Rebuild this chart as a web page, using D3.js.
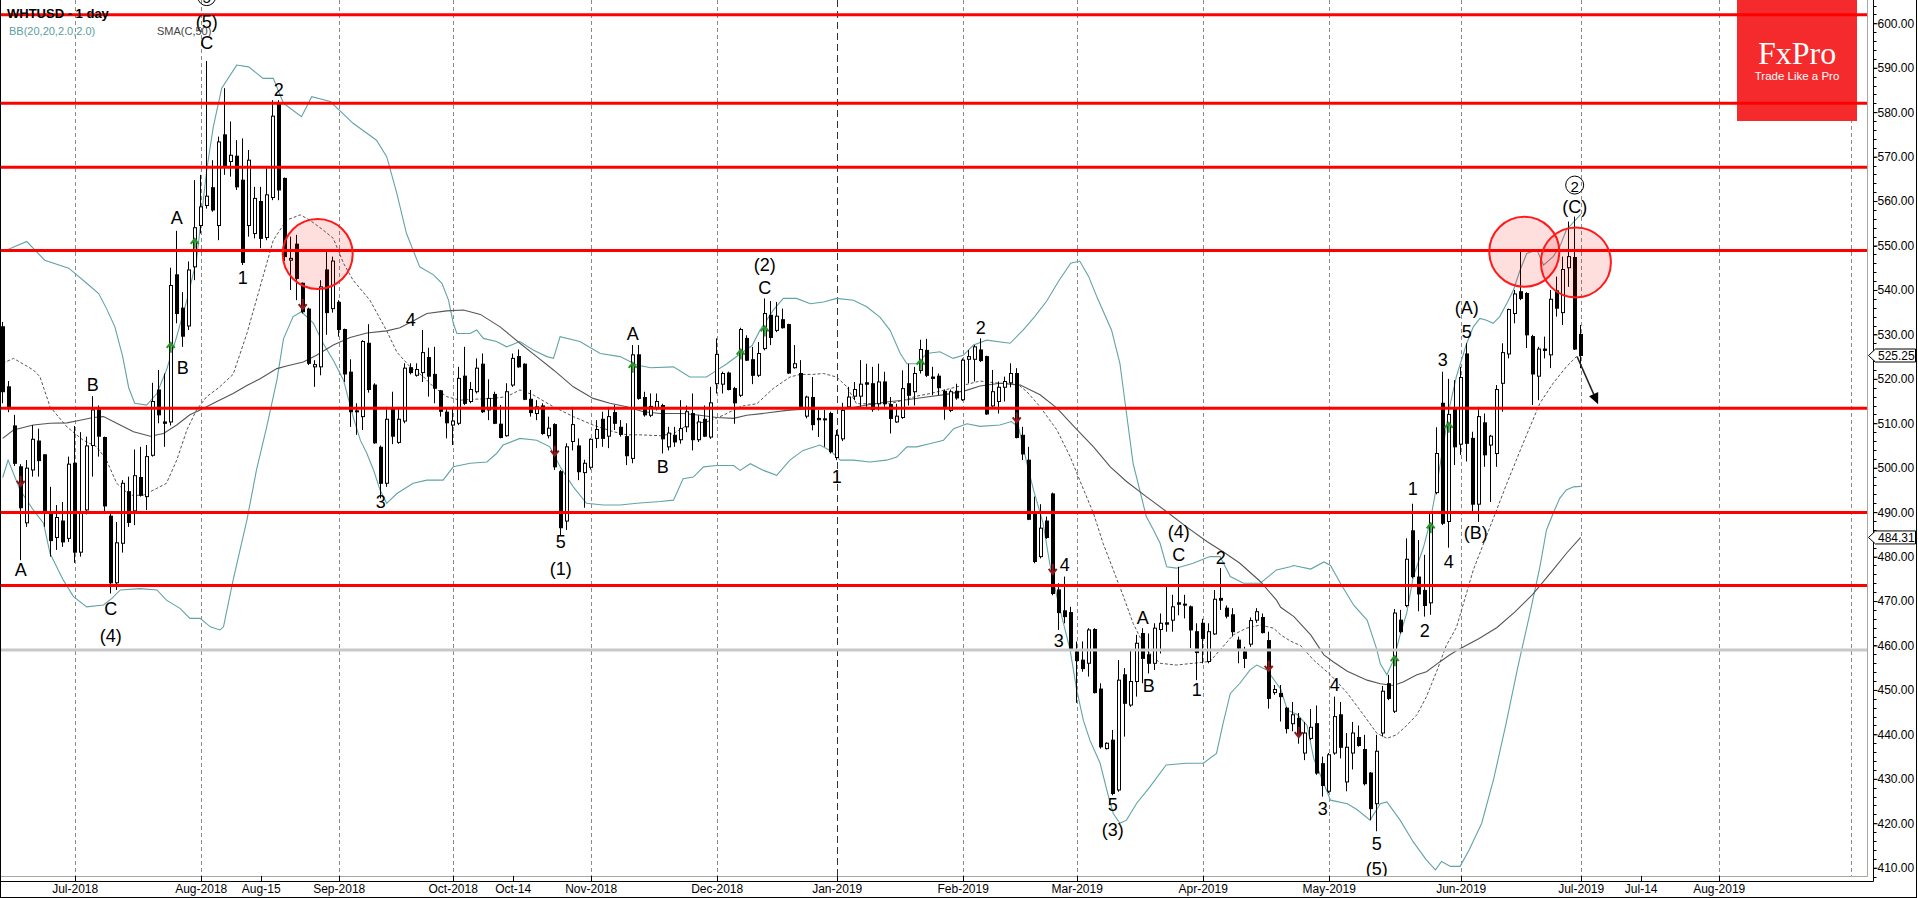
<!DOCTYPE html>
<html>
<head>
<meta charset="utf-8">
<script src="https://cdn.jsdelivr.net/npm/d3@7/dist/d3.min.js"></script>
<style>
  body { margin: 0; background: #fff; }
  svg { display: block; font-family: "Liberation Sans", Arial, sans-serif; }
  .grid { stroke: #8a8a8a; stroke-width: 1; stroke-dasharray: 4,3; }
  .grid.year { stroke: #333; stroke-dasharray: 7,4; }
  .level { stroke: #ff0000; stroke-width: 3; }
  .band { fill: none; stroke: #62a3a5; stroke-width: 1.1; }
  .mid { fill: none; stroke: #555; stroke-width: 1; stroke-dasharray: 3,2; }
  .sma { fill: none; stroke: #555; stroke-width: 1.1; }
  .wave { font-size: 18px; fill: #000; text-anchor: middle; dominant-baseline: central; }
  .axis text { font-size: 12px; fill: #000; }
</style>
</head>
<body>
<script>
// bottom axis (candle index -> label); candles are trading days
var tickIdx = [12, 33, 43, 56, 75, 85, 98, 119, 139, 160, 179, 200, 221, 243, 263, 273, 286],
    tickLabels = ["Jul-2018", "Aug-2018", "Aug-15", "Sep-2018", "Oct-2018", "Oct-14", "Nov-2018",
                  "Dec-2018", "Jan-2019", "Feb-2019", "Mar-2019", "Apr-2019", "May-2019",
                  "Jun-2019", "Jul-2019", "Jul-14", "Aug-2019"],
    gridIdx = [12, 33, 56, 75, 98, 119, 139, 160, 179, 200, 221, 243, 263, 286, 308],
    priceTicks = d3.range(410, 601, 10),
    levels = [601.9, 582.0, 567.6, 548.9, 513.4, 489.9, 473.5],
    greyLevel = 459.0,
    lastPrices = [525.25, 484.31];

// open, high, low, close
var ohlc = [
  [531.7,532.8,514.5,517.1],[518.2,519.5,512.5,513.7],[509.4,511.9,500.4,501.0],[500.2,500.8,479.2,491.0],
  [487.6,501.7,486.7,499.9],[499.5,509.6,498.0,506.4],[506.0,508.8,498.0,501.6],[502.9,503.0,486.7,490.3],
  [489.9,495.7,480.0,483.6],[484.3,491.6,481.5,488.8],[488.0,492.3,482.2,483.3],[484.1,502.5,483.3,500.8],
  [501.0,509.4,478.6,481.0],[481.0,508.0,480.0,490.0],[490.5,507.0,489.5,504.9],[505.0,516.1,498.0,513.0],
  [513.0,514.0,502.5,507.1],[506.8,507.0,489.6,491.4],[489.1,489.8,471.7,474.1],[474.1,487.8,472.5,483.1],
  [483.0,497.2,480.9,496.5],[494.6,498.0,486.7,487.7],[490.3,504.1,487.1,498.2],[497.8,504.7,493.5,493.8],
  [493.5,505.1,490.5,502.5],[502.8,519.1,502.5,514.9],[517.5,522.0,510.0,511.9],[510.3,521.2,504.7,510.0],
  [510.3,545.0,509.5,541.0],[543.4,553.3,532.5,534.7],[535.9,539.5,527.2,529.6],[531.9,546.4,531.0,544.5],
  [545.2,564.7,542.2,554.0],[554.5,565.9,552.7,558.7],[559.0,591.5,558.3,561.1],[563.0,569.2,557.6,558.0],
  [554.5,574.5,551.2,573.3],[574.9,585.4,565.9,567.9],[568.9,577.9,565.5,570.3],[570.1,573.7,562.5,563.2],
  [564.7,574.1,545.6,546.2],[554.5,571.5,552.0,569.2],[552.7,563.2,551.6,560.6],[559.9,563.2,549.4,551.6],
  [551.8,567.4,551.2,561.4],[560.8,582.7,560.2,579.1],[582.0,582.7,560.2,562.5],[565.1,565.3,546.5,547.5],
  [546.7,552.0,540.0,547.1],[550.3,552.4,537.7,542.6],[541.5,541.7,534.7,535.1],[535.7,536.0,523.1,523.5],
  [522.7,524.2,518.2,523.2],[522.7,542.2,520.8,540.7],[544.5,548.6,529.9,534.9],[535.8,547.5,534.9,546.5],
  [537.2,537.7,529.5,531.1],[531.1,531.3,519.3,521.1],[521.5,524.4,509.2,512.6],[512.8,514.5,507.4,512.6],
  [511.5,528.7,508.5,528.4],[528.0,532.3,516.9,517.6],[518.6,519.0,505.4,505.6],[504.6,505.0,493.1,496.5],
  [496.5,513.7,495.7,510.9],[513.1,517.1,505.3,507.1],[505.7,513.7,505.4,510.9],[510.5,523.5,510.0,522.4],
  [522.5,523.5,521.0,521.4],[520.8,523.5,520.5,522.1],[521.4,531.0,519.3,525.9],[524.8,527.0,516.0,520.6],
  [521.0,527.2,514.5,517.9],[517.3,517.5,511.5,512.7],[512.5,513.3,506.6,510.1],[509.6,513.3,505.1,510.5],
  [510.0,522.7,509.6,520.1],[520.6,527.2,514.1,514.5],[514.9,519.3,514.5,517.6],[517.1,524.6,516.7,522.4],
  [523.3,525.7,512.3,512.6],[513.0,519.9,510.7,515.6],[516.5,517.1,509.8,510.0],[509.8,514.1,506.6,506.8],
  [507.2,519.0,507.0,517.1],[518.6,525.7,518.2,524.6],[525.0,526.6,522.5,522.7],[523.3,523.5,515.2,515.4],
  [515.4,517.5,511.5,512.4],[512.2,515.2,510.7,513.7],[513.9,514.5,507.4,507.7],[507.2,511.5,506.6,508.9],
  [509.7,510.0,499.5,500.2],[499.1,499.5,484.8,486.5],[488.0,505.5,486.0,504.7],[505.9,513.7,503.9,509.7],
  [504.9,506.6,497.2,499.1],[498.9,501.8,491.0,501.0],[500.1,506.6,499.6,506.4],[506.6,510.7,504.4,508.6],
  [510.9,512.6,504.7,506.6],[507.1,513.7,504.4,511.5],[512.4,514.1,508.5,510.0],[509.1,510.7,507.0,507.5],
  [507.0,510.0,500.6,502.7],[502.1,527.6,501.0,525.4],[525.4,527.6,515.3,515.6],[515.8,517.1,511.5,511.9],
  [511.8,516.7,511.4,513.8],[513.3,516.7,512.9,514.9],[514.0,514.4,503.2,506.5],[504.7,509.2,503.9,507.8],
  [507.3,509.2,504.7,505.8],[506.3,515.2,505.4,508.8],[509.2,514.0,508.0,512.6],[512.2,516.7,503.9,506.3],
  [506.3,511.8,505.8,510.3],[510.9,514.0,506.9,507.1],[506.9,518.2,506.5,514.6],[518.9,529.1,516.7,525.5],
  [518.8,521.6,516.7,521.2],[521.3,521.6,517.4,517.6],[517.8,518.2,509.9,514.6],[516.3,531.5,515.9,531.1],
  [529.1,529.8,524.0,524.2],[524.3,527.2,518.8,520.8],[520.8,528.3,520.4,525.7],[526.8,538.1,526.4,534.7],
  [534.3,537.5,527.6,529.3],[530.9,537.3,530.5,534.1],[533.3,535.8,531.3,531.5],[532.2,532.4,521.1,521.3],
  [522.5,527.6,522.3,523.4],[521.2,524.2,513.6,513.8],[511.6,516.2,511.1,515.9],[515.8,520.4,508.4,509.7],
  [511.1,513.0,506.9,510.8],[510.9,513.0,504.7,511.0],[512.2,512.6,503.2,503.6],[502.3,508.5,501.7,507.3],
  [506.5,514.6,506.0,512.9],[513.7,518.2,513.3,515.9],[516.1,519.3,515.2,517.6],[516.1,524.2,513.7,518.8],
  [519.1,523.4,513.7,518.8],[518.9,522.7,512.6,513.1],[514.4,523.4,512.9,519.3],[519.3,521.6,513.7,514.4],
  [514.2,515.9,507.7,511.1],[510.3,514.4,510.1,511.6],[511.3,521.9,511.0,517.8],[518.9,523.4,514.0,516.3],
  [517.1,522.7,514.0,521.2],[521.9,528.8,521.2,526.6],[526.4,529.0,520.4,520.8],[520.4,522.7,516.3,520.1],
  [520.6,521.2,516.3,518.0],[517.2,517.6,510.8,513.3],[512.9,517.6,512.5,517.1],[517.2,518.9,515.3,515.7],
  [515.3,524.6,515.0,524.2],[524.4,526.5,519.0,525.0],[524.4,527.6,519.4,527.2],[526.5,529.1,523.8,524.1],
  [525.0,525.2,511.9,512.1],[513.9,522.0,513.4,517.1],[514.9,519.4,512.2,518.1],[518.1,520.5,514.9,519.4],
  [519.1,523.5,518.1,521.2],[521.2,522.4,506.6,506.8],[507.3,509.2,501.7,503.1],[501.7,504.7,488.2,488.4],
  [489.6,493.5,478.5,478.9],[480.0,491.8,479.6,486.4],[488.0,489.0,484.0,484.3],[494.1,494.4,471.3,471.7],
  [472.5,474.0,463.5,467.4],[467.8,475.5,465.0,466.5],[467.4,468.7,459.0,459.1],[458.6,460.9,447.1,456.6],
  [456.7,460.9,454.1,454.8],[456.0,463.9,453.0,463.5],[463.6,463.9,449.2,449.4],[450.2,451.5,436.8,437.2],
  [436.8,438.2,436.6,438.0],[438.7,441.0,426.3,426.7],[427.5,456.7,427.1,452.2],[453.4,454.9,439.5,447.0],
  [446.6,459.0,446.2,451.9],[451.9,462.4,448.5,460.5],[462.7,463.9,451.5,457.1],[457.9,462.7,453.7,456.0],
  [456.0,465.0,454.5,463.9],[463.6,467.2,458.2,465.0],[465.1,473.2,463.1,464.8],[465.7,471.4,463.1,468.7],
  [469.6,477.7,466.8,469.3],[469.3,471.4,466.1,469.1],[468.7,469.0,459.4,463.5],[463.1,465.0,452.2,458.4],
  [465.0,466.0,456.0,461.6],[456.4,465.0,456.0,463.1],[462.6,472.5,462.4,470.4],[470.6,477.4,468.0,470.2],
  [468.4,469.0,466.1,466.6],[466.9,468.4,462.0,463.1],[461.2,462.0,456.0,459.4],[458.6,459.7,454.9,457.1],
  [460.3,466.3,459.7,465.6],[465.7,468.4,465.1,467.6],[466.3,467.2,462.7,462.9],[461.1,463.1,445.8,448.1],
  [449.4,451.1,448.9,450.1],[449.2,451.1,442.9,448.5],[445.9,446.2,440.2,441.3],[442.4,447.3,440.7,444.4],
  [443.6,444.8,437.9,439.9],[435.8,442.8,434.2,440.3],[439.1,445.7,438.7,441.6],[442.4,446.5,430.9,431.3],
  [433.4,435.0,426.0,428.5],[427.2,435.8,426.8,435.4],[435.8,448.5,435.4,444.0],[444.4,447.3,434.6,437.1],
  [429.3,440.3,427.2,437.1],[435.8,442.8,432.1,440.3],[439.3,442.0,437.2,437.5],[436.6,439.9,428.5,428.9],
  [431.3,431.5,420.7,423.3],[424.4,439.9,418.2,436.2],[440.3,450.9,439.5,449.7],[451.4,453.4,447.7,448.1],
  [445.2,468.2,444.8,467.3],[465.7,468.0,462.7,463.1],[469.0,484.1,468.6,479.4],[485.8,491.9,475.1,475.5],
  [475.4,483.7,467.7,471.6],[472.4,480.4,466.5,469.0],[469.6,490.2,466.9,489.8],[494.4,509.1,494.0,503.2],
  [514.5,521.6,487.1,487.5],[487.9,520.0,482.0,512.0],[513.4,519.7,500.6,504.7],[505.3,522.7,502.9,520.3],
  [525.6,528.0,501.4,505.5],[506.6,508.1,490.1,491.8],[491.8,513.7,487.8,511.5],[510.1,512.2,500.2,502.9],
  [505.1,507.4,492.3,507.1],[503.2,518.6,500.2,517.6],[519.0,528.0,512.6,525.9],[525.6,535.8,524.6,535.6],
  [534.7,540.0,532.5,539.1],[539.6,548.6,537.7,538.1],[539.2,539.5,526.9,529.9],[529.5,529.9,514.1,521.1],
  [520.6,527.2,515.2,526.7],[526.7,529.5,524.6,526.4],[525.4,540.0,522.4,537.9],[539.8,543.0,534.0,535.9],
  [534.9,547.5,532.1,544.6],[545.0,555.4,540.7,547.5],[547.3,556.5,526.5,526.7],[530.0,532.1,522.4,525.25]
];

// indicator lines as [candle index, value]
var bbUpper = [[0,548.6],[4,550.9],[7,546.7],[11,544.9],[14,541.5],[16,539.2],[17.3,535.8],[18.7,531.7],[20,525],[21,518],
  [22,514.5],[24,514.1],[25.7,516.7],[27.3,522],[29,529.5],[30.7,537.7],[32.3,546.7],[34,567],[35.1,576.7],[36.5,585.4],
  [39,590.6],[41,590.2],[43.4,587.6],[45.1,587.6],[46.8,582],[49.8,579],[51.5,583.5],[54.6,582.4],[58.4,577.5],[62.3,573.7],
  [64,570],[65.7,561.7],[67.3,552.7],[69.5,545.2],[71.8,543.4],[73.2,541.5],[74.3,537.7],[75.1,532.5],[75.7,530.2],[77.9,530.2],
  [79,531],[80.1,529.1],[82.3,528.4],[84,527.2],[86.2,528.4],[88.4,526.5],[90.7,525],[91.8,524.6],[92.9,529.5],[96.2,528.4],
  [99.6,525.7],[102.9,525],[105.7,523.1],[108,522.5],[111.8,522.7],[114.5,520.4],[117.3,520.4],[119,521.9],[120.7,523.4],[123,525.7],
  [124.9,527.5],[126.2,530.9],[128.4,535.4],[130.1,538.1],[132.3,538.1],[134.6,536.9],[136.8,537.3],[139,538.1],[141.8,537.7],[144,536.2],
  [146.2,533.9],[147.9,530.9],[149.6,525.7],[150.7,523.4],[152.3,523.4],[154,525.7],[156.2,526.1],[158.4,524.6],[160.1,525.3],[161.8,527.6],
  [164,528.7],[167.9,528],[170.1,531],[172,534],[174,537.5],[176,542],[178,546],[179.5,546.5],[181,543],[182.5,538],
  [184.8,531],[186.2,523.5],[187.3,512.2],[188.4,501],[189.5,495],[190.6,489],[191.8,486],[192.9,483],[194,477.7],[195.6,477.4],
  [198.4,478.5],[201.2,480],[202.9,480],[204.6,475.5],[206.8,474],[209.6,474],[212.3,477],[214.6,477.7],[215.2,478],[218,477.2],
  [220.2,478.8],[221.3,478],[223,473.9],[225.2,469],[227.4,465.7],[229,459.2],[229.6,455.9],[230.7,453.4],[231.8,456.7],[232.9,462.4],
  [234,467.3],[235.1,475.5],[236.8,482.1],[237.9,487.8],[239,496],[240.1,505],[241.2,514],[242.3,520.6],[244,528],[245.1,531.7],
  [246.2,533.6],[247.3,533.2],[248.4,532.5],[249.5,534],[250.7,537],[251.8,540],[252.9,544.5],[254,548.2],[255.7,549],[256.8,545.6],
  [258.4,547.5],[259.5,549.7],[260.6,553.5],[263,557]];

var bbMid = [[0,523.5],[1.8,524.6],[5.1,522],[6.2,520.5],[7.9,513.7],[10.7,509.2],[13.4,506.2],[15.7,504.7],[17.3,501.7],[19,496.5],
  [21.2,493.8],[23.4,493.8],[25.6,495.3],[27.3,496.5],[29,501.7],[30.7,508.5],[32.3,513],[34,516],[36,518],[38.4,521],
  [40.7,530.2],[42.9,540.7],[45.1,551.2],[47.3,555.7],[49.6,556.9],[51.2,555.7],[53.4,553.5],[55.1,551.6],[56.8,546],[58.4,542.2],
  [61.2,537.7],[64,530.8],[65.7,526],[67.9,522.7],[70.1,520.5],[71.8,518.2],[74,516],[76.2,515.2],[78.4,515.4],[81.8,515.6],
  [84,516],[86.2,517.5],[88.4,516.4],[91.8,513.7],[95.1,511.5],[98.4,509.6],[101.8,508.1],[104,507.4],[106.2,507.4],[109.6,507.2],
  [111.8,507.7],[114.5,509.9],[117.3,510.3],[120.1,511.8],[123,513.8],[125.7,514.4],[128.4,517.8],[131.2,520.4],[132.9,521],[135.1,521],
  [136.8,521.2],[139,520.4],[140.7,518.2],[142.3,514.4],[145.1,514.4],[147.9,514.4],[150.1,515.2],[152.3,516.1],[154.6,516.7],[157.3,517.6],
  [159.6,518.4],[162.9,519.5],[166.2,519],[169,519],[170.7,517.1],[172.9,513.7],[175.7,508.5],[177.9,502.5],[179.5,497.2],[181.8,489.7],
  [183.4,483],[185.1,477],[186.8,471],[188.4,465],[190.6,459],[192.9,456],[195.6,455.6],[198.4,456],[201.2,456.4],[202.9,459],
  [205.1,462.4],[207.3,463.9],[209.6,464.6],[211.8,463.9],[213,462.4],[214.6,461],[216.3,460],[218.5,456.7],[221.3,453.4],[224.1,449.3],
  [226.8,444.4],[229,440.3],[230.7,439.1],[232.3,439.9],[234,442],[235.7,444.4],[237.3,448.5],[239,454.2],[240.6,460],[242.3,464.1],
  [245.1,477],[247.9,486.7],[250.7,496.5],[253.4,505.5],[256.2,514.5],[258.4,519],[260.6,522.7],[262.3,525],[263,525.2]];

var bbLower = [[0,497.8],[0.9,501.7],[2.9,495],[5.1,490.5],[6.8,487.5],[7.9,480.7],[10.1,474.7],[11.8,471],[14,468.7],[16.8,469.1],
  [18.2,470.6],[19.6,472.5],[22.9,472.8],[25.7,472.5],[27.3,470.2],[29.6,468.3],[31.2,466.1],[32.9,466.1],[34.6,464.2],[36.2,463.5],
  [36.8,464.2],[38.4,474.7],[40.7,488.2],[42.3,499.5],[44,509.2],[45.7,519.7],[46.8,529],[48.4,534],[49.8,535.1],[51.8,532.5],
  [53.4,528],[55.1,524.2],[56.8,519.7],[57.6,515.6],[58.4,511.5],[59.6,506.2],[60.7,503.2],[61.8,499.5],[62.9,495],[64,492],
  [65.7,494.2],[68.4,496.5],[70.7,497.2],[73.4,497.2],[75.1,500.2],[77.9,501],[80.7,501.3],[82.3,503.2],[83.4,505.1],[86.2,506.6],
  [89,506.2],[91.2,504.7],[92.9,500.2],[95.1,495.7],[97.3,492],[100.1,491.6],[102.9,491.6],[105.7,492],[109.6,492.4],[111.8,492.7],
  [113.4,497.5],[115.1,497.9],[116.8,500.2],[119,500.5],[121.8,500.5],[122.9,499.4],[124.6,500.9],[126.8,499.4],[129,498.3],[131.2,501.7],
  [133.4,503.9],[136.2,505.1],[137.9,503.9],[139.6,501.7],[141.8,501.7],[144.5,501.3],[147.3,501.7],[149,502.4],[150.7,504.7],[152.3,504.7],
  [154.5,505.4],[156.8,506.2],[158.5,508.8],[160.7,509.9],[162.9,509.3],[166.2,509.6],[168.1,510.4],[169.3,509.2],[170.7,501],[171.8,495],
  [173.4,487.5],[174.5,478.5],[175.7,471],[176.8,465],[177.9,459],[179,450],[180.1,443.2],[181.2,438.7],[182.9,433.5],[184.3,426],
  [185.1,422.2],[186.2,420],[187.3,420.7],[189,424.5],[191.2,428.2],[193.9,433.1],[197.3,433.5],[200.1,433.5],[202.3,435.7],[203.4,442.5],
  [204.6,449.2],[206.2,451.5],[207.9,454.5],[209,455.6],[210.7,454.5],[212.3,451.5],[213,450.2],[214.1,445.5],[215.8,444.4],[217.4,442],
  [218.5,434.6],[220.2,428.9],[221.3,425.2],[224.1,424.4],[225.7,423.1],[227.9,420.7],[229.6,424.4],[230.7,424.8],[232.9,420.7],[235.1,415.8],
  [237.3,411.7],[238.8,409.5],[239.8,411.4],[241.3,410.3],[242.9,410.3],[244.4,414],[246.5,420],[248.5,430],[250.5,442],[252.5,455],
  [254.5,467],[256.2,477.7],[257.3,486],[258.4,489.7],[259.5,493.1],[260.6,495],[261.8,495.7],[263,495.8]];

var sma50 = [[0,506.6],[1.8,508.5],[5.1,509.6],[7.9,510],[10.7,510.1],[12.9,510.7],[15.1,511.3],[16.8,511.5],[19,510],[21.8,508.1],
  [24.6,507.1],[26.8,507.7],[29,509.6],[31.2,511.9],[32.9,513],[35.7,514.9],[38.4,516.7],[40.7,518.5],[42.9,520],[45.7,522.3],
  [47.3,522.9],[50.1,523.8],[52.3,525.3],[55.1,527.6],[57.9,529.3],[60.7,530.3],[64,530.8],[66.2,531.5],[68.4,533],[70.7,534.7],
  [74,535.3],[76.8,535.5],[79.6,534.5],[82.9,531.7],[86.2,528],[89,525],[91.8,522],[95.1,518.2],[98.4,515.6],[101.2,514.5],
  [104,513.7],[106.8,512.6],[109.6,512.2],[113.4,512.2],[116.2,511.8],[119,511.3],[121.8,511.1],[124,511.8],[127.3,512.3],[130.7,512.9],
  [134,513.2],[137.3,513.3],[140.7,513.3],[144,514.1],[147.3,514.8],[150.7,515.3],[154,515.9],[157.3,516.5],[160.6,517.4],[162.9,518.4],
  [166.2,519],[169.6,518.6],[172.9,516.4],[175.7,513.4],[178.6,509.2],[181.8,504.7],[184.6,500.2],[187.3,496.9],[190.6,493.5],[194,490.1],
  [197.3,486.7],[200.7,483.4],[203.4,481.1],[206.2,478.5],[209.6,474.4],[212.3,470.2],[213,468.6],[215.2,466.5],[218,462.4],[220.2,457.9],
  [221.8,456.3],[224.1,454.2],[227.4,452.2],[229.6,451.4],[231.8,451],[233.4,451.8],[235.7,453.4],[237.3,454.1],[239.5,456.3],[241.2,457.9],
  [242.8,459.2],[246,461.5],[249,464],[252,467.5],[255,471.5],[258.4,477],[260.6,480.7],[263,484.31]];

// signal arrows and wave counts [index, price]
var upSignals = [[28,527.2],[32,550.6],[105,522.7],[123,525.7],[127,530.9],[153,523.4],[232,456.7],[238,486.6],[241,509.2]],
    downSignals = [[3,496.8],[50,536.6],[92,503.6],[169,511.1],[175,477],[211,455.2],[216,440.3]],
    waveText = ["A","B","C","(4)","A","B","C","(5)","1","2","3","4","5","(1)","A","B","C","(2)","1","2",
                "3","4","5","(3)","A","B","C","(4)","1","2","3","4","5","(5)","1","2","3","4","5","(A)","(B)","(C)"],
    waveIdx = [3,15,18,18,29,30,34,34,40,46,63,68,93,93,105,110,127,127,139,163,
               176,177,185,185,190,191,196,196,199,203,220,222,229,229,235,237,240,241,244,244,245.5,262],
    wavePrice = [477.0,518.6,468.1,462.1,556.1,522.4,595.5,600.4,542.6,585,492.3,533.2,483.3,477.2,530.2,500.2,540.4,545.6,498,531.4,
                 460.9,478.1,424.1,418.5,466.1,450.9,480.4,485.6,450,479.6,423.1,451,415.4,409.8,495.2,463.3,524.2,478.8,530.6,535.9,485.2,558.7],
    circled = [["5",34,606.0],["2",262,563.6]],
    highlights = [[52.5,548.1],[253.6,548.6],[262.2,546.2]],
    targetArrow = [[262.4,525.0],[265.9,514.3]];

var width = 1918, height = 898,
    plotW = 1867, plotH = 876,
    x = d3.scaleLinear().domain([0, 308]).range([2.7, 2.7 + 6 * 308]),
    y = d3.scaleLinear().domain([410, 600]).range([867.7, 23.3]);

function createGraph() {
  var svg = d3.select("body").append("svg")
      .attr("width", width)
      .attr("height", height);

  svg.append("rect").attr("width", width).attr("height", height).attr("fill", "#fff");

  svg.append("defs").append("clipPath").attr("id", "plot")
    .append("rect").attr("width", plotW).attr("height", plotH);

  var g = svg.append("g").attr("clip-path", "url(#plot)");

  // month grid
  g.selectAll(".grid").data(gridIdx).enter().append("line")
      .attr("class", function(d) { return d === 139 ? "grid year" : "grid"; })
      .attr("x1", function(d) { return Math.round(x(d)) + 0.5; })
      .attr("x2", function(d) { return Math.round(x(d)) + 0.5; })
      .attr("y1", 0).attr("y2", plotH);

  // logo
  var logo = g.append("g");
  logo.append("rect").attr("x", 1737).attr("y", 0).attr("width", 120).attr("height", 121).attr("fill", "#f52a2c");
  logo.append("text").attr("x", 1797).attr("y", 64).attr("text-anchor", "middle")
      .style("font-family", "'Liberation Serif', 'DejaVu Serif', serif").style("font-size", "32px")
      .attr("fill", "#fff").text("FxPro");
  logo.append("text").attr("x", 1797).attr("y", 80).attr("text-anchor", "middle")
      .style("font-size", "11.5px").attr("fill", "#fff").text("Trade Like a Pro");

  var line = d3.line()
    .x(function(d) { return x(d[0]); })
    .y(function(d) { return y(d[1]); });

  g.append("path").datum(bbUpper).attr("class", "band").attr("d", line);
  g.append("path").datum(bbLower).attr("class", "band").attr("d", line);
  g.append("path").datum(bbMid).attr("class", "mid").attr("d", line);
  g.append("path").datum(sma50).attr("class", "sma").attr("d", line);

  // candles
  var candle = g.selectAll(".candle").data(ohlc).enter().append("g").attr("class", "candle");
  candle.append("line")
      .attr("x1", function(d, i) { return Math.round(x(i)) - 0.5; })
      .attr("x2", function(d, i) { return Math.round(x(i)) - 0.5; })
      .attr("y1", function(d) { return y(d[1]); })
      .attr("y2", function(d) { return y(d[2]); })
      .attr("stroke", "#000").attr("stroke-width", 1);
  candle.append("rect")
      .attr("x", function(d, i) { return Math.round(x(i)) - 1.5; })
      .attr("width", 3)
      .attr("y", function(d) { return y(Math.max(d[0], d[3])); })
      .attr("height", function(d) { return Math.max(1, Math.abs(y(d[0]) - y(d[3]))); })
      .attr("fill", function(d) { return d[3] >= d[0] ? "#fff" : "#000"; })
      .attr("stroke", "#000").attr("stroke-width", 1);

  // signal arrows
  g.selectAll(".up").data(upSignals).enter().append("path")
      .attr("d", function(d) {
        var cx = x(d[0]), cy = y(d[1]);
        return "M" + cx + "," + (cy + 6) + "V" + (cy - 4) + "M" + (cx - 4) + "," + (cy + 1) + "L" + cx + "," + (cy - 4) + "L" + (cx + 4) + "," + (cy + 1);
      })
      .attr("fill", "none").attr("stroke", "#2a962a").attr("stroke-width", 2);
  g.selectAll(".down").data(downSignals).enter().append("path")
      .attr("d", function(d) {
        var cx = x(d[0]), cy = y(d[1]);
        return "M" + cx + "," + (cy - 6) + "V" + (cy + 4) + "M" + (cx - 4) + "," + (cy - 1) + "L" + cx + "," + (cy + 4) + "L" + (cx + 4) + "," + (cy - 1);
      })
      .attr("fill", "none").attr("stroke", "#8b1a1a").attr("stroke-width", 2);

  // support / resistance levels
  g.append("line").attr("x1", 0).attr("x2", plotW)
      .attr("y1", y(greyLevel)).attr("y2", y(greyLevel))
      .attr("stroke", "#c8c8c8").attr("stroke-width", 3);
  g.selectAll(".level").data(levels).enter().append("line")
      .attr("class", "level")
      .attr("x1", 0).attr("x2", plotW)
      .attr("y1", function(d) { return y(d); })
      .attr("y2", function(d) { return y(d); });

  // highlight circles
  g.selectAll(".hl").data(highlights).enter().append("circle")
      .attr("cx", function(d) { return x(d[0]); })
      .attr("cy", function(d) { return y(d[1]); })
      .attr("r", 35)
      .attr("fill", "rgba(255,0,0,0.13)")
      .attr("stroke", "#ff1a1a").attr("stroke-width", 2);

  // projected move
  var ax1 = x(targetArrow[0][0]), ay1 = y(targetArrow[0][1]),
      ax2 = x(targetArrow[1][0]), ay2 = y(targetArrow[1][1]),
      ang = Math.atan2(ay2 - ay1, ax2 - ax1);
  g.append("line").attr("x1", ax1).attr("y1", ay1)
      .attr("x2", ax2 - 8 * Math.cos(ang)).attr("y2", ay2 - 8 * Math.sin(ang))
      .attr("stroke", "#222").attr("stroke-width", 1.5);
  g.append("path")
      .attr("d", "M" + ax2 + "," + ay2 +
        "L" + (ax2 - 11 * Math.cos(ang) + 5 * Math.sin(ang)) + "," + (ay2 - 11 * Math.sin(ang) - 5 * Math.cos(ang)) +
        "L" + (ax2 - 11 * Math.cos(ang) - 5 * Math.sin(ang)) + "," + (ay2 - 11 * Math.sin(ang) + 5 * Math.cos(ang)) + "Z")
      .attr("fill", "#000");

  // wave counts
  g.selectAll(".wave").data(waveText).enter().append("text")
      .attr("class", "wave")
      .attr("x", function(d, i) { return x(waveIdx[i]); })
      .attr("y", function(d, i) { return y(wavePrice[i]); })
      .text(function(d) { return d; });
  var circ = g.selectAll(".circ").data(circled).enter().append("g");
  circ.append("circle")
      .attr("cx", function(d) { return x(d[1]); })
      .attr("cy", function(d) { return y(d[2]); })
      .attr("r", 9).attr("fill", "none").attr("stroke", "#000").attr("stroke-width", 1);
  circ.append("text").attr("class", "wave").style("font-size", "15px")
      .attr("x", function(d) { return x(d[1]); })
      .attr("y", function(d) { return y(d[2]) + 1; })
      .text(function(d) { return d[0]; });

  // frame
  svg.append("line").attr("x1", plotW + 0.5).attr("x2", plotW + 0.5).attr("y1", 0).attr("y2", plotH + 0.5)
      .attr("stroke", "#a9a9a0");
  svg.append("line").attr("x1", 0).attr("x2", plotW + 0.5).attr("y1", plotH + 0.5).attr("y2", plotH + 0.5)
      .attr("stroke", "#a9a9a0");

  // price axis
  var yAxis = d3.axisRight(y).tickValues(priceTicks).tickFormat(d3.format(".2f")).tickSize(4).tickPadding(1);
  var ya = svg.append("g").attr("class", "axis").attr("transform", "translate(1873.5,0)").call(yAxis);
  ya.select(".domain").remove();
  ya.selectAll(".tick line").attr("stroke", "#000");
  ya.selectAll(".tick text").attr("x", 4);
  ya.selectAll(".minor").data(d3.range(408, 605, 2)).enter().append("line")
      .attr("x1", 0).attr("x2", 3)
      .attr("y1", function(d) { return Math.round(y(d)) + 0.5; })
      .attr("y2", function(d) { return Math.round(y(d)) + 0.5; })
      .attr("stroke", "#000");
  svg.append("line").attr("x1", 1873.5).attr("x2", 1873.5).attr("y1", 0).attr("y2", 881.5).attr("stroke", "#000");

  // last value tags
  var tag = svg.selectAll(".tag").data(lastPrices).enter().append("g")
      .attr("transform", function(d) { return "translate(0," + y(d) + ")"; });
  tag.append("path").attr("d", "M1868.5,0L1875.5,-6.5H1915.5V6.5H1875.5Z")
      .attr("fill", "#fff").attr("stroke", "#000");
  tag.append("text").attr("x", 1878).attr("y", 4.5).style("font-size", "12px").text(function(d) { return d.toFixed(2); });

  // time axis
  var xAxis = d3.axisBottom(x).tickValues(tickIdx)
      .tickFormat(function(d, i) { return tickLabels[i]; }).tickSize(0);
  var xa = svg.append("g").attr("class", "axis").attr("transform", "translate(0,881.5)").call(xAxis);
  xa.select(".domain").remove();
  xa.selectAll(".tick text").attr("y", 2.5).attr("dy", "0.71em");
  svg.selectAll(".xt").data(tickIdx).enter().append("line")
      .attr("x1", function(d) { return Math.round(x(d)) + 0.5; })
      .attr("x2", function(d) { return Math.round(x(d)) + 0.5; })
      .attr("y1", 876).attr("y2", 881).attr("stroke", "#000");
  svg.append("line").attr("x1", 0).attr("x2", 1873.5).attr("y1", 881.5).attr("y2", 881.5).attr("stroke", "#000");

  // outer border
  svg.append("line").attr("x1", 0.5).attr("x2", 0.5).attr("y1", 0).attr("y2", 897.5).attr("stroke", "#000");
  svg.append("line").attr("x1", 1916.5).attr("x2", 1916.5).attr("y1", 0).attr("y2", 897.5).attr("stroke", "#000");
  svg.append("line").attr("x1", 0).attr("x2", 1917).attr("y1", 897.5).attr("y2", 897.5).attr("stroke", "#000");

  // header
  svg.append("text").attr("x", 7).attr("y", 18).style("font-size", "13px").style("font-weight", "bold")
      .text("WHTUSD - 1 day");
  svg.append("text").attr("x", 9).attr("y", 35).style("font-size", "11px").attr("fill", "#5a9ea0")
      .text("BB(20,20,2.0,2.0)");
  svg.append("text").attr("x", 157).attr("y", 35).style("font-size", "11px").attr("fill", "#444")
      .text("SMA(C,50)");
}

createGraph();
</script>
</body>
</html>
